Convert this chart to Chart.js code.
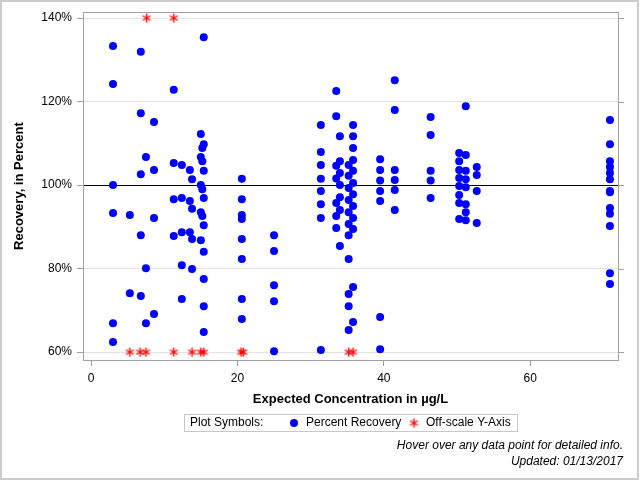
<!DOCTYPE html>
<html>
<head>
<meta charset="utf-8">
<script src="https://cdn.jsdelivr.net/npm/chart.js@4/dist/chart.umd.min.js"></script>
<style>
html, body { margin: 0; padding: 0; background: #fff; }
</style>
</head>
<body>
<canvas id="recoveryChart" width="640" height="480"></canvas>
<script>
// expected concentrations (ug/L) and the recoveries measured at each one
const concLevels = [3.0, 5.3, 6.8, 7.5, 8.6, 11.3, 12.4, 13.5, 13.8, 15.0, 15.2, 15.4,
                    20.6, 25.0, 31.4, 33.5, 34.0, 35.2, 35.8, 39.5, 41.5, 46.4, 50.3, 51.2, 52.7, 70.9];
const recoveryByLevel = [
  [133.3, 124.2, 100.0, 93.3, 66.9, 62.4],
  [92.8, 74.1],
  [131.9, 117.2, 102.6, 88.0, 73.4],
  [106.7, 80.1, 66.9],
  [115.1, 103.6, 92.1, 69.1],
  [122.8, 105.3, 96.6, 87.8],
  [104.8, 96.9, 88.7, 80.8, 72.7],
  [103.6, 96.2, 88.7],
  [101.4, 94.3, 87.1, 79.9],
  [112.2, 106.7, 100.0, 93.5, 86.8],
  [108.9, 105.7, 99.0, 92.6],
  [135.4, 109.8, 103.4, 96.9, 90.4, 84.0, 77.5, 71.0, 64.8],
  [101.5, 96.6, 92.8, 91.9, 87.1, 82.3, 72.7, 67.9],
  [88.0, 84.2, 76.0, 72.2, 60.2],
  [114.4, 107.9, 104.8, 101.5, 98.6, 95.4, 92.1, 60.5],
  [122.5, 116.5, 104.6, 101.6, 95.7, 92.6, 89.7],
  [111.7, 105.7, 102.9, 100.0, 97.1, 94.0, 85.4],
  [104.8, 102.2, 99.3, 96.4, 93.5, 90.7, 88.0, 82.3, 73.9, 71.0, 65.3],
  [114.4, 111.7, 108.9, 106.0, 103.4, 100.5, 97.8, 95.0, 92.1, 89.5, 75.6, 67.2],
  [106.2, 103.6, 101.1, 98.6, 96.2, 68.4, 60.7],
  [125.1, 118.0, 103.6, 101.2, 98.8, 94.0],
  [116.3, 112.0, 103.4, 101.1, 96.9],
  [107.7, 105.7, 103.6, 101.7, 99.8, 97.6, 95.7, 91.9],
  [118.9, 107.2, 103.4, 101.4, 99.5, 95.4, 93.5, 91.6],
  [104.3, 102.4, 98.6, 90.9],
  [115.6, 109.8, 105.7, 104.3, 102.9, 101.4, 98.6, 98.3, 94.5, 93.1, 90.2, 78.9, 76.3]
];
// values outside the y range, drawn on the axis limits
const offscaleConc = [5.3, 6.7, 7.5, 11.3, 13.8, 15.0, 15.4, 20.5, 20.8, 35.2, 35.8, 7.6, 11.3];
const offscalePct  = [60, 60, 60, 60, 60, 60, 60, 60, 60, 60, 60, 140, 140];

const xTicks = [0, 20, 40, 60];
const yTicks = [60, 80, 100, 120, 140];

const FONT = 'Arial, "Liberation Sans", Helvetica, sans-serif';

let recoveryPoints = [];
concLevels.forEach((c, i) => {
  recoveryByLevel[i].forEach(p => recoveryPoints.push({x: c, y: p}));
});
let offscalePoints = offscaleConc.map((c, i) => ({x: c, y: offscalePct[i]}));

function makeAsterisk(color, r){
  let cv = document.createElement('canvas');
  let s = r * 2 + 2;
  cv.width = s; cv.height = s;
  let g = cv.getContext('2d');
  g.strokeStyle = color;
  g.lineWidth = 1.4;
  let m = s / 2;
  for(let a = 0; a < 3; a++){
    let ang = Math.PI / 2 + a * Math.PI / 3;
    g.beginPath();
    g.moveTo(m + r * Math.cos(ang), m + r * Math.sin(ang));
    g.lineTo(m - r * Math.cos(ang), m - r * Math.sin(ang));
    g.stroke();
  }
  return cv;
}
const redStar = makeAsterisk('#ff0000', 4.5);

const framePlugin = {
  id: 'frame',
  beforeDraw(chart){
    let ctx = chart.ctx;
    ctx.save();
    ctx.fillStyle = '#fff';
    ctx.fillRect(0, 0, chart.width, chart.height);
    ctx.restore();
  },
  afterDraw(chart){
    let ctx = chart.ctx;
    let a = chart.chartArea;
    let ys = chart.scales.y;
    ctx.save();
    // outer border
    ctx.strokeStyle = '#cccccc';
    ctx.lineWidth = 2;
    ctx.strokeRect(1, 1, 637, 478);
    // plot frame
    ctx.strokeStyle = '#a0a0a0';
    ctx.lineWidth = 1;
    ctx.strokeRect(Math.round(a.left) + 0.5, Math.round(a.top) + 0.5,
                   Math.round(a.right - a.left), Math.round(a.bottom - a.top));
    // mirrored ticks on the right
    ctx.beginPath();
    yTicks.forEach(v => {
      let py = Math.round(ys.getPixelForValue(v)) + 0.5;
      ctx.moveTo(Math.round(a.right), py);
      ctx.lineTo(Math.round(a.right) + 6, py);
    });
    ctx.stroke();

    // legend box
    ctx.strokeStyle = '#c8c8c8';
    ctx.strokeRect(184.5, 414.5, 333, 17);
    ctx.fillStyle = '#000';
    ctx.font = '12px ' + FONT;
    ctx.textBaseline = 'middle';
    ctx.textAlign = 'left';
    ctx.fillText('Plot Symbols:', 190, 423);
    ctx.fillStyle = '#0000ff';
    ctx.beginPath();
    ctx.arc(294, 423, 4, 0, Math.PI * 2);
    ctx.fill();
    ctx.fillStyle = '#000';
    ctx.fillText('Percent Recovery', 306, 423);
    ctx.drawImage(redStar, 414 - redStar.width / 2, 423 - redStar.height / 2);
    ctx.fillText('Off-scale Y-Axis', 426, 423);

    // footnotes
    ctx.font = 'italic 12px ' + FONT;
    ctx.textAlign = 'right';
    ctx.fillText('Hover over any data point for detailed info.', 623, 446);
    ctx.fillText('Updated: 01/13/2017', 623, 462);
    ctx.restore();
  }
};

const data = {
  datasets: [{
    label: 'Percent Recovery',
    data: recoveryPoints,
    backgroundColor: '#0000ff',
    borderWidth: 0,
    pointRadius: 4,
    pointHoverRadius: 5
  }, {
    label: 'Off-scale Y-Axis',
    data: offscalePoints,
    pointStyle: redStar,
    backgroundColor: '#ff0000',
    borderColor: '#ff0000'
  }]
};

const config = {
  type: 'scatter',
  data: data,
  options: {
    responsive: false,
    animation: false,
    devicePixelRatio: 1,
    layout: {padding: {left: 0, top: 12, right: 22, bottom: 73}},
    plugins: {
      legend: {display: false}
    },
    scales: {
      x: {
        type: 'linear',
        min: -1.1,
        max: 72,
        afterBuildTicks: s => { s.ticks = xTicks.map(v => ({value: v})); },
        afterFit: s => { s.height = 47; },
        grid: {drawOnChartArea: false, tickLength: 6, tickColor: '#a0a0a0'},
        border: {display: false},
        ticks: {color: '#000', padding: 5, maxRotation: 0, font: {family: FONT, size: 12}},
        title: {display: true, text: 'Expected Concentration in µg/L', color: '#000', padding: 0,
                font: {family: FONT, size: 13, weight: 'bold'}}
      },
      y: {
        min: 58.1,
        max: 141.4,
        afterBuildTicks: s => { s.ticks = yTicks.map(v => ({value: v})); },
        afterFit: s => { s.width = 83; },
        grid: {
          color: c => (c.tick && c.tick.value === 100) ? '#000' : '#e2e2e2',
          lineWidth: 1,
          tickLength: 6,
          tickColor: '#a0a0a0'
        },
        border: {display: false},
        ticks: {color: '#000', padding: 5, callback: v => v + '%', font: {family: FONT, size: 12}},
        title: {display: true, text: 'Recovery, in Percent', color: '#000', padding: {top: 12, bottom: 0},
                font: {family: FONT, size: 13, weight: 'bold'}}
      }
    }
  },
  plugins: [framePlugin]
};

let ctx = document.getElementById('recoveryChart').getContext('2d');
new Chart(ctx, config);
</script>
</body>
</html>
